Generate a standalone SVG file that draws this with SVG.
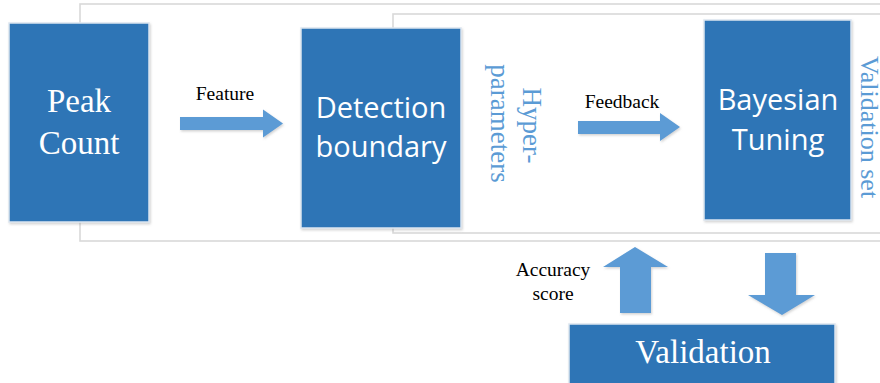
<svg xmlns="http://www.w3.org/2000/svg" width="880" height="383" viewBox="0 0 880 383">
<defs>
<filter id="sh" x="-10%" y="-10%" width="130%" height="130%">
<feDropShadow dx="1" dy="1.5" stdDeviation="1.2" flood-color="#7f7f7f" flood-opacity="0.35"/>
</filter>
<style>
.frame{fill:none;stroke:#d9d9d9;stroke-width:1.6}
.box{fill:#2E75B6;stroke:#dde6f0;stroke-width:1.5;filter:url(#sh)}
.arrow{fill:#5B9BD5;filter:url(#sh)}
.serifW{font-family:"Liberation Serif","Times New Roman",serif;font-size:33px;fill:#ffffff;text-anchor:middle}
.sansW{font-family:"Open Sans","Noto Sans",sans-serif;font-size:29px;fill:#ffffff;text-anchor:middle}
.lbl{font-family:"Liberation Serif","Times New Roman",serif;font-size:19.5px;fill:#000000;text-anchor:middle}
.vlbl{font-family:"Liberation Serif","Times New Roman",serif;font-size:27px;fill:#5B9BD5;text-anchor:middle}
</style>
</defs>
<g id="frames">
<rect class="frame" x="80" y="4" width="820" height="237"/>
<rect class="frame" x="393" y="14" width="507" height="219"/>
</g>
<g id="connectors">
<polygon class="arrow" points="180,117 263,117 263,109.5 283,123.5 263,137.5 263,130 180,130"/>
<polygon class="arrow" points="578,121 660,121 660,113 680,127 660,141 660,134 578,134"/>
<polygon class="arrow" points="620,313 620,267 603,267 635,247 668,267 651,267 651,313"/>
<polygon class="arrow" points="765,253 796,253 796,295 815,295 782,315 748,295 765,295"/>
</g>
<g id="peak-count">
<rect class="box" x="9" y="23" width="140" height="199"/>
<text class="serifW" x="79" y="112">Peak</text>
<text class="serifW" x="79" y="154">Count</text>
</g>
<g id="detection-boundary">
<rect class="box" x="301" y="28" width="160" height="200"/>
<text class="sansW" x="381" y="118">Detection</text>
<text class="sansW" x="381" y="157">boundary</text>
</g>
<g id="bayesian-tuning">
<rect class="box" x="704" y="20" width="147" height="200"/>
<text class="sansW" x="778" y="110">Bayesian</text>
<text class="sansW" x="778" y="150">Tuning</text>
</g>
<g id="validation">
<rect class="box" x="569" y="324" width="266" height="80"/>
<text class="serifW" x="703" y="363">Validation</text>
</g>
<g id="labels">
<text class="lbl" x="225" y="100">Feature</text>
<text class="lbl" x="622" y="108">Feedback</text>
<text class="lbl" x="553" y="276">Accuracy</text>
<text class="lbl" x="553" y="300">score</text>
<text class="vlbl" transform="translate(523,125.5) rotate(90)" x="0" y="0">Hyper-</text>
<text class="vlbl" transform="translate(491,123.5) rotate(90)" x="0" y="0">parameters</text>
<text class="vlbl" transform="translate(861,127) rotate(90)" x="0" y="0" style="font-size:26px">Validation set</text>
</g>
</svg>
